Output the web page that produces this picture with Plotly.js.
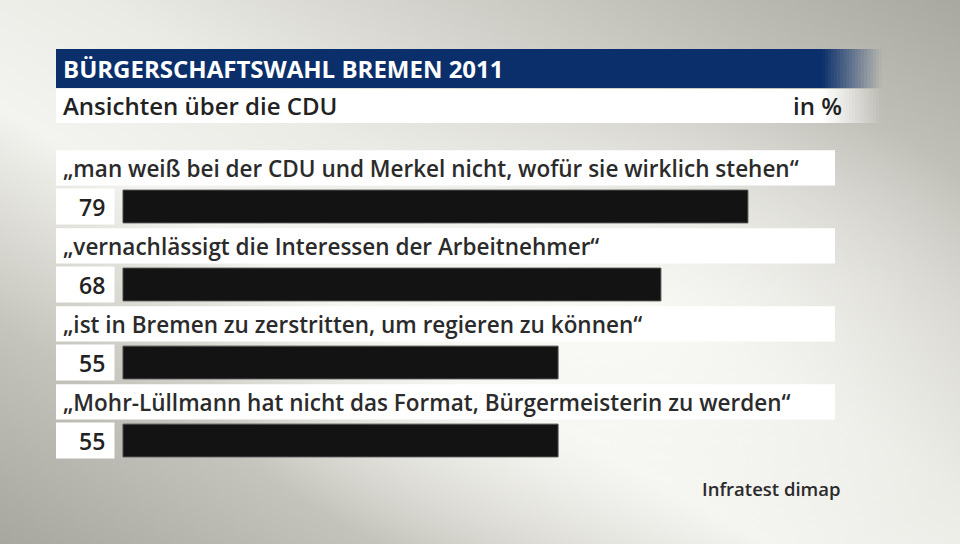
<!DOCTYPE html>
<html><head><meta charset="utf-8">
<script src="https://cdn.plot.ly/plotly-3.0.1.min.js"></script>
<style>
html,body{margin:0;padding:0;}
#bg{position:absolute;left:0;top:0;width:960px;height:544px;
background:
 radial-gradient(ellipse 420px 260px at 620px 330px, rgba(250,250,247,0.9), rgba(250,250,247,0) 100%),
 linear-gradient(to bottom left, #a9a8a0 0%, #c9c8c1 22%, #ebebe6 45%, #f3f3ef 60%, #c5c4bc 80%, #a8a79f 100%);}
#chart{position:absolute;left:0;top:0;width:960px;height:544px;}
</style></head>
<body><div id="bg"></div><div id="chart"></div>
<script>
const title = "BÜRGERSCHAFTSWAHL BREMEN 2011";
const subtitle = "Ansichten über die CDU";
const unit = "in %";
const source = "Infratest dimap";
const categories = [
  "„man weiß bei der CDU und Merkel nicht, wofür sie wirklich stehen“",
  "„vernachlässigt die Interessen der Arbeitnehmer“",
  "„ist in Bremen zu zerstritten, um regieren zu können“",
  "„Mohr-Lüllmann hat nicht das Format, Bürgermeisterin zu werden“"
];
const values = [79, 68, 55, 55];

const W = 960, H = 544;
const M = {l:56, r:46, t:148, b:46};
const pw = W - M.l - M.r, ph = H - M.t - M.b;
const xp = px => (px - M.l) / pw;
const yp = py => (H - M.b - py) / ph;

const FONT = "Open Sans, Noto Sans, sans-serif";
const shapes = [];
const annotations = [];

// title bar (navy) and subtitle bar (white) with fade on right
shapes.push({type:'rect', xref:'paper', yref:'paper', x0:xp(56), x1:xp(822), y0:yp(88), y1:yp(49), fillcolor:'#0b2f6b', line:{width:0}, layer:'below'});
shapes.push({type:'rect', xref:'paper', yref:'paper', x0:xp(56), x1:xp(822), y0:yp(123), y1:yp(89), fillcolor:'#ffffff', line:{width:0}, layer:'below'});
const N = 20;
for (let i = 0; i < N; i++) {
  const a = 1 - (i + 0.5) / N;
  const x0 = 822 + i * 3, x1 = 822 + (i + 1) * 3;
  shapes.push({type:'rect', xref:'paper', yref:'paper', x0:xp(x0), x1:xp(x1), y0:yp(88), y1:yp(49), fillcolor:'#0b2f6b', opacity:a, line:{width:0}, layer:'below'});
  shapes.push({type:'rect', xref:'paper', yref:'paper', x0:xp(x0), x1:xp(x1), y0:yp(123), y1:yp(89), fillcolor:'#ffffff', opacity:a, line:{width:0}, layer:'below'});
}
annotations.push({xref:'paper', yref:'paper', x:xp(61), y:yp(69), xanchor:'left', yanchor:'middle', showarrow:false,
  text:title, font:{family:FONT, size:24, color:'#ffffff', weight:700}});
annotations.push({xref:'paper', yref:'paper', x:xp(61), y:yp(106), xanchor:'left', yanchor:'middle', showarrow:false,
  text:subtitle, font:{family:FONT, size:24, color:'#222222', weight:600}});
annotations.push({xref:'paper', yref:'paper', x:xp(844), y:yp(106), xanchor:'right', yanchor:'middle', showarrow:false,
  text:unit, font:{family:FONT, size:24, color:'#222222', weight:600}});
annotations.push({xref:'paper', yref:'paper', x:xp(843), y:yp(488), xanchor:'right', yanchor:'middle', showarrow:false,
  text:source, font:{family:FONT, size:18.5, color:'#2a2a2a', weight:600}});

categories.forEach((c, i) => {
  // label box
  shapes.push({type:'rect', xref:'paper', yref:'y', x0:xp(56), x1:xp(835), y0:c, y1:c, y0shift:-0.72, y1shift:-0.27,
    fillcolor:'#ffffff', line:{width:0}, layer:'below'});
  // value box
  shapes.push({type:'rect', xref:'paper', yref:'y', x0:xp(56), x1:xp(114.5), y0:c, y1:c, y0shift:-0.23, y1shift:0.23,
    fillcolor:'#ffffff', line:{width:0}, layer:'below'});
  annotations.push({xref:'paper', yref:'y', x:xp(61), y:c, yshift:38.5, xanchor:'left', yanchor:'middle', showarrow:false,
    text:c, font:{family:FONT, size:22.5, color:'#2b2b2b', weight:600}});
  annotations.push({xref:'paper', yref:'y', x:xp(92), y:c, xanchor:'center', yanchor:'middle', showarrow:false,
    text:String(values[i]), font:{family:FONT, size:23, color:'#222222', weight:600}});
});

const trace = {
  type:'bar', orientation:'h', x:values, y:categories, width:0.42,
  marker:{color:'#131313', line:{color:'#4a4a4a', width:1}},
  hoverinfo:'none', cliponaxis:false
};

const layout = {
  width:W, height:H, margin:M,
  paper_bgcolor:'rgba(0,0,0,0)', plot_bgcolor:'rgba(0,0,0,0)',
  showlegend:false,
  xaxis:{range:[-8.47, 100], visible:false, fixedrange:true},
  yaxis:{type:'category', categoryorder:'array', categoryarray:categories,
         range:[3.737, -0.75], visible:false, fixedrange:true},
  shapes:shapes, annotations:annotations
};
Plotly.newPlot('chart', [trace], layout, {displayModeBar:false, staticPlot:true});
</script></body></html>
